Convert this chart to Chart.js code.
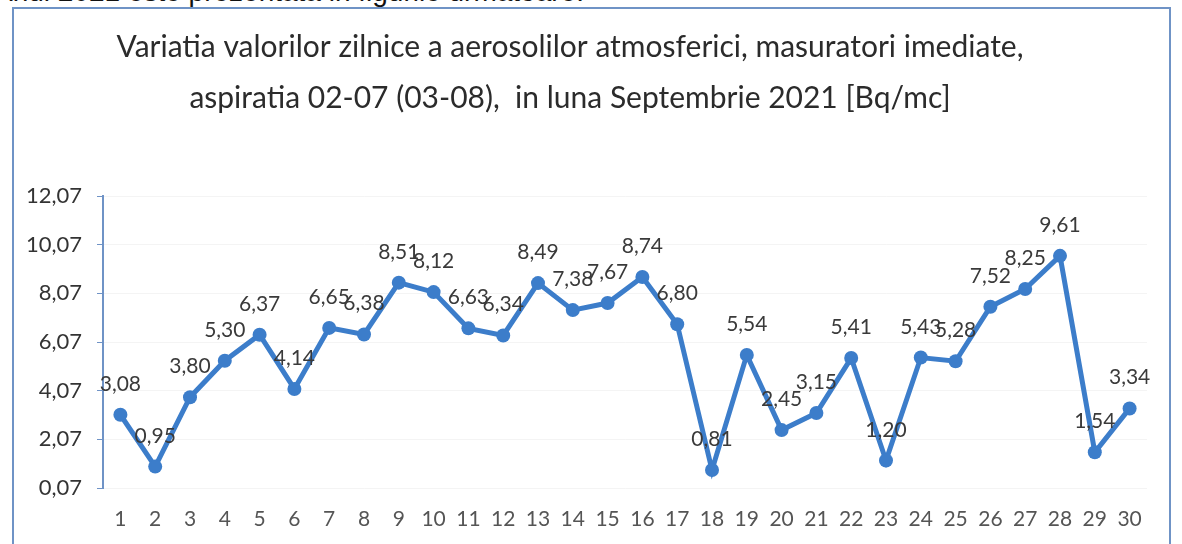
<!DOCTYPE html>
<html>
<head>
<meta charset="utf-8">
<script src="https://cdn.jsdelivr.net/npm/chart.js@4"></script>
<style>
  html,body{margin:0;padding:0;background:#fff;width:1182px;height:544px;overflow:hidden;}
  #wrap{position:relative;width:1182px;height:544px;}
  #frame{position:absolute;left:12px;top:7px;width:1159px;height:560px;border:2px solid #6f93c6;box-sizing:border-box;pointer-events:none;}
  #above{position:absolute;left:-6px;top:-24px;font-family:"Liberation Sans",Arial,sans-serif;font-size:28px;color:#111;white-space:nowrap;}
  canvas{position:absolute;left:0;top:0;}
</style>
</head>
<body>
<div id="wrap">
  <div id="above">Anul 2021 este prezentata in figurile urmatoare:</div>
  <canvas id="c" width="1182" height="544"></canvas>
  <div id="frame"></div>
</div>
<script>
const titleLines = [
  "Variatia valorilor zilnice a aerosolilor atmosferici, masuratori imediate,",
  "aspiratia 02-07 (03-08),  in luna Septembrie 2021 [Bq/mc]"
];
const days = ["1","2","3","4","5","6","7","8","9","10","11","12","13","14","15","16","17","18","19","20","21","22","23","24","25","26","27","28","29","30"];
const values = [3.08,0.95,3.80,5.30,6.37,4.14,6.65,6.38,8.51,8.12,6.63,6.34,8.49,7.38,7.67,8.74,6.80,0.81,5.54,2.45,3.15,5.41,1.20,5.43,5.28,7.52,8.25,9.61,1.54,3.34];
const yMin = 0.07, yMax = 12.07, yStep = 2;

const FONT = "Lato, 'Noto Sans', sans-serif";
const fmt = v => Number(v).toFixed(2).replace('.', ',');

const titlePlugin = {
  id: 'twoLineTitle',
  afterDraw(chart) {
    const ctx = chart.ctx;
    ctx.save();
    ctx.fillStyle = '#2b2b2b';
    ctx.font = "30px " + FONT;
    ctx.textAlign = 'center';
    ctx.textBaseline = 'middle';
    ctx.fillText(titleLines[0], 570, 47);
    ctx.fillText(titleLines[1], 570, 98);
    ctx.restore();
  }
};

const labelPlugin = {
  id: 'pointLabels',
  afterDatasetsDraw(chart) {
    const ctx = chart.ctx;
    const meta = chart.getDatasetMeta(0);
    ctx.save();
    ctx.fillStyle = '#3a3a3a';
    ctx.font = "21px " + FONT;
    ctx.textAlign = 'center';
    ctx.textBaseline = 'alphabetic';
    meta.data.forEach((pt, i) => {
      ctx.fillText(fmt(values[i]), pt.x, pt.y - 24);
    });
    ctx.restore();
  }
};

new Chart(document.getElementById('c'), {
  type: 'line',
  data: {
    labels: days,
    datasets: [{
      data: values,
      borderColor: '#3c7dca',
      backgroundColor: '#3c7dca',
      borderWidth: 5,
      pointRadius: 7,
      pointBorderWidth: 0,
      pointBackgroundColor: '#3c7dca',
      tension: 0,
      clip: false
    }]
  },
  options: {
    responsive: false,
    animation: false,
    devicePixelRatio: 1,
    layout: { padding: { top: 196, left: 0, right: 35, bottom: 0 } },
    plugins: { legend: { display: false }, tooltip: { enabled: false }, title: { display: false } },
    scales: {
      x: {
        offset: true,
        grid: { display: false, drawTicks: false },
        border: { display: false },
        ticks: { color: '#555', font: { family: FONT, size: 21 }, padding: 19, maxRotation: 0, autoSkip: false },
        afterFit(s) { s.height = 56; }
      },
      y: {
        min: yMin, max: yMax,
        afterBuildTicks(s) {
          const t = [];
          for (let v = yMin; v <= yMax + 1e-9; v += yStep) t.push({ value: +v.toFixed(2) });
          s.ticks = t;
        },
        grid: { color: 'rgba(0,0,0,0.045)', tickColor: '#6f93c6', tickLength: 6, lineWidth: 1 },
        border: { display: true, color: '#6f93c6', width: 2 },
        ticks: { color: '#333', font: { family: FONT, size: 22 }, padding: 15, callback: v => fmt(v) },
        afterFit(s) { s.width = 103; }
      }
    }
  },
  plugins: [titlePlugin, labelPlugin]
});
</script>
</body>
</html>
